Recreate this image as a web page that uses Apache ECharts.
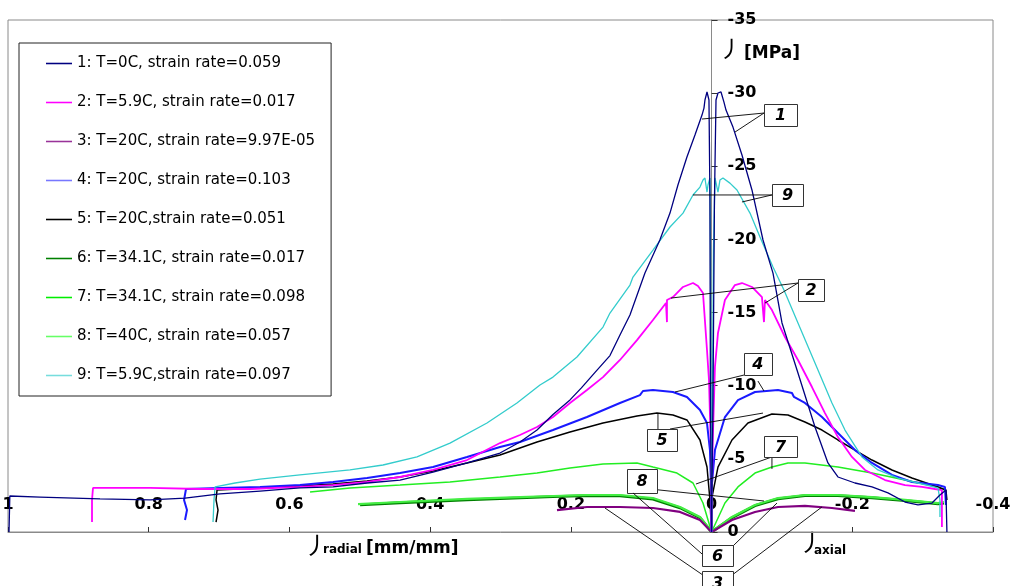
<!DOCTYPE html>
<html>
<head>
<meta charset="utf-8">
<script src="https://cdn.jsdelivr.net/npm/echarts@6/dist/echarts.min.js"></script>
<style>html,body{margin:0;padding:0;background:#fff;}#c{width:1010px;height:586px;}</style>
</head>
<body>
<div id="c"></div>
<script>
// ---------- DATA ----------
const names = [
  '1: T=0C, strain rate=0.059',
  '2: T=5.9C, strain rate=0.017',
  '3: T=20C, strain rate=9.97E-05',
  '4: T=20C, strain rate=0.103',
  '5: T=20C,strain rate=0.051',
  '6: T=34.1C, strain rate=0.017',
  '7: T=34.1C, strain rate=0.098',
  '8: T=40C, strain rate=0.057',
  '9: T=5.9C,strain rate=0.097'
];
const xTicks = [1, 0.8, 0.6, 0.4, 0.2, 0, -0.2, -0.4];
const yTicks = [-35, -30, -25, -20, -15, -10, -5, 0];

// [strain, stress MPa]; radial strain positive (left), axial strain negative (right)
const radial1 = [[0,0],[0.0016,-9.02],[0.0023,-22.69],[0.0037,-29.53],[0.0065,-30.08],[0.0094,-29.53],[0.0108,-28.98],[0.0136,-28.50],[0.0236,-27.14],[0.0350,-25.63],[0.0478,-23.72],[0.0591,-21.80],[0.0735,-19.96],[0.0947,-17.70],[0.1160,-14.83],[0.1302,-13.47],[0.1444,-12.06],[0.1650,-10.95],[0.1850,-9.85],[0.2012,-9.03],[0.2254,-8.03],[0.2481,-6.97],[0.2723,-6.15],[0.3007,-5.40],[0.3476,-4.72],[0.3959,-4.10],[0.4428,-3.55],[0.4897,-3.35],[0.5381,-3.08],[0.5850,-3.01],[0.6418,-2.80],[0.6987,-2.60],[0.7484,-2.32],[0.7981,-2.19],[0.8692,-2.26],[0.9545,-2.39],[0.9974,-2.46],[0.9986,0]];
const axial1 = [[0,0],[-0.0020,-9.02],[-0.0041,-22.69],[-0.0063,-29.53],[-0.0091,-30.01],[-0.0134,-30.08],[-0.0176,-29.39],[-0.0205,-28.84],[-0.0304,-27.68],[-0.0432,-25.77],[-0.0574,-23.38],[-0.0731,-19.96],[-0.0873,-17.70],[-0.1001,-14.29],[-0.1228,-10.87],[-0.1470,-7.18],[-0.1654,-4.72],[-0.1796,-3.76],[-0.2038,-3.35],[-0.2280,-3.08],[-0.2507,-2.67],[-0.2749,-2.05],[-0.2934,-1.85],[-0.3133,-1.98],[-0.3246,-2.53],[-0.3331,-2.87],[-0.3345,0]];

const radial2 = [[0,0],[0.0009,-5.60],[0.0037,-10.39],[0.0065,-12.44],[0.0122,-16.34],[0.0193,-16.81],[0.0264,-17.02],[0.0406,-16.75],[0.0549,-16.06],[0.0634,-15.86],[0.0634,-14.35],[0.0648,-15.65],[0.0833,-14.49],[0.1060,-13.12],[0.1302,-11.76],[0.1543,-10.59],[0.1771,-9.71],[0.2012,-8.82],[0.2254,-7.86],[0.2481,-7.18],[0.2723,-6.63],[0.3007,-6.08],[0.3476,-4.92],[0.3959,-4.24],[0.4428,-3.76],[0.4897,-3.42],[0.5381,-3.21],[0.5850,-3.08],[0.6560,-2.94],[0.7271,-2.94],[0.7981,-3.01],[0.8792,-3.01],[0.8806,-2.19],[0.8806,-0.68]];
const axial2 = [[0,0],[-0.0013,-5.60],[-0.0048,-11.28],[-0.0091,-13.60],[-0.0190,-15.86],[-0.0332,-16.88],[-0.0432,-17.02],[-0.0574,-16.75],[-0.0716,-16.06],[-0.0745,-14.35],[-0.0759,-15.86],[-0.0858,-15.17],[-0.1043,-13.33],[-0.1228,-11.76],[-0.1427,-9.91],[-0.1612,-8.13],[-0.1796,-6.49],[-0.1995,-5.13],[-0.2180,-4.24],[-0.2465,-3.55],[-0.2749,-3.21],[-0.2990,-3.08],[-0.3175,-2.94],[-0.3274,-2.87],[-0.3274,-0.34]];

const radial3 = [[0,0],[0.0165,-0.82],[0.0449,-1.37],[0.0833,-1.64],[0.1302,-1.71],[0.1771,-1.71],[0.2197,-1.50]];
const axial3 = [[0,0],[-0.0290,-0.82],[-0.0617,-1.37],[-0.0944,-1.71],[-0.1327,-1.78],[-0.1711,-1.64],[-0.2038,-1.44]];

const radial4 = [[0,0],[0.0009,-3.35],[0.0023,-5.60],[0.0065,-7.45],[0.0165,-8.34],[0.0350,-9.23],[0.0549,-9.57],[0.0833,-9.71],[0.0975,-9.64],[0.1018,-9.36],[0.1302,-8.82],[0.1771,-7.86],[0.2254,-6.97],[0.2723,-6.15],[0.3007,-5.81],[0.3476,-5.13],[0.3959,-4.44],[0.4428,-4.03],[0.4897,-3.69],[0.5381,-3.42],[0.5850,-3.21],[0.6418,-3.08],[0.6987,-3.01],[0.7470,-2.94],[0.7498,-2.19],[0.7456,-1.50],[0.7484,-0.82]];
const axial4 = [[0,0],[-0.0006,-3.35],[-0.0048,-5.60],[-0.0190,-7.86],[-0.0375,-9.02],[-0.0617,-9.57],[-0.0944,-9.71],[-0.1143,-9.50],[-0.1171,-9.23],[-0.1327,-8.82],[-0.1569,-7.86],[-0.1796,-6.77],[-0.2038,-5.60],[-0.2280,-4.72],[-0.2564,-3.90],[-0.2848,-3.42],[-0.3218,-3.21],[-0.3317,-3.08],[-0.3331,-1.85]];

const radial5 = [[0,0],[0.0023,-2.19],[0.0065,-4.44],[0.0165,-6.29],[0.0350,-7.66],[0.0549,-8.00],[0.0776,-8.13],[0.1060,-7.93],[0.1543,-7.45],[0.2012,-6.84],[0.2481,-6.15],[0.3007,-5.26],[0.3476,-4.72],[0.3959,-4.17],[0.4428,-3.76],[0.4897,-3.49],[0.5381,-3.28],[0.5850,-3.14],[0.6418,-3.01],[0.7029,-2.87],[0.7043,-2.19],[0.7015,-1.50],[0.7043,-0.68]];
const axial5 = [[0,0],[-0.0006,-2.39],[-0.0091,-4.44],[-0.0290,-6.29],[-0.0517,-7.45],[-0.0858,-8.07],[-0.1086,-8.00],[-0.1327,-7.52],[-0.1569,-6.97],[-0.1796,-6.29],[-0.2038,-5.60],[-0.2280,-4.92],[-0.2564,-4.24],[-0.2848,-3.69],[-0.3218,-3.08],[-0.3331,-2.87],[-0.3345,-2.19]];

const radial6 = [[0,0],[0.0165,-0.98],[0.0449,-1.65],[0.0833,-2.25],[0.1302,-2.47],[0.1771,-2.48],[0.2254,-2.42],[0.2723,-2.33],[0.3476,-2.20],[0.4428,-2.00],[0.4996,-1.86]];
const axial6 = [[0,0],[-0.0290,-0.98],[-0.0617,-1.80],[-0.0944,-2.27],[-0.1327,-2.48],[-0.1796,-2.48],[-0.2280,-2.34],[-0.2749,-2.14],[-0.3218,-1.93],[-0.3303,-1.98]];

const radial7 = [[0,0],[0.0122,-1.98],[0.0264,-3.35],[0.0492,-4.03],[0.0833,-4.44],[0.1060,-4.72],[0.1543,-4.65],[0.2012,-4.37],[0.2481,-4.03],[0.3007,-3.76],[0.3718,-3.42],[0.4428,-3.21],[0.5139,-3.01],[0.5707,-2.73]];
const axial7 = [[0,0],[-0.0190,-1.98],[-0.0375,-3.08],[-0.0617,-4.03],[-0.0858,-4.44],[-0.1086,-4.72],[-0.1327,-4.72],[-0.1796,-4.44],[-0.2280,-4.03],[-0.2749,-3.55],[-0.3218,-3.08],[-0.3303,-2.87]];

const radial8 = [[0,0],[0.0165,-1.03],[0.0449,-1.71],[0.0833,-2.32],[0.1302,-2.53],[0.1771,-2.53],[0.2254,-2.46],[0.2723,-2.39],[0.3476,-2.26],[0.4428,-2.05],[0.5025,-1.91]];
const axial8 = [[0,0],[-0.0290,-1.03],[-0.0617,-1.85],[-0.0944,-2.32],[-0.1327,-2.53],[-0.1796,-2.53],[-0.2280,-2.39],[-0.2749,-2.19],[-0.3218,-1.98],[-0.3303,-2.05]];

const radial9 = [[0,0],[0.0009,-9.02],[0.0016,-19.27],[0.0023,-24.20],[0.0051,-23.72],[0.0065,-23.24],[0.0094,-24.20],[0.0122,-24.06],[0.0165,-23.58],[0.0264,-23.04],[0.0406,-21.80],[0.0591,-20.85],[0.0833,-19.27],[0.1117,-17.43],[0.1160,-16.88],[0.1444,-14.97],[0.1543,-14.01],[0.1913,-11.96],[0.2254,-10.59],[0.2439,-10.05],[0.2766,-8.82],[0.3192,-7.45],[0.3718,-6.08],[0.4187,-5.13],[0.4670,-4.58],[0.5139,-4.24],[0.5850,-3.90],[0.6418,-3.62],[0.6773,-3.35],[0.7057,-3.08],[0.7072,-2.19],[0.7086,-0.68]];
const axial9 = [[0,0],[-0.0013,-9.02],[-0.0027,-19.27],[-0.0048,-24.20],[-0.0070,-23.72],[-0.0091,-23.24],[-0.0119,-24.06],[-0.0162,-24.20],[-0.0261,-23.85],[-0.0361,-23.38],[-0.0546,-21.80],[-0.0688,-20.16],[-0.0873,-18.11],[-0.1029,-16.54],[-0.1228,-14.29],[-0.1470,-11.55],[-0.1711,-8.82],[-0.1896,-6.97],[-0.2137,-5.13],[-0.2365,-4.24],[-0.2649,-3.69],[-0.2934,-3.35],[-0.3218,-3.01],[-0.3246,-2.19],[-0.3246,-1.03]];

// callouts: label, box centre [strain, stress], leader segments
const calloutLabels = ['1', '9', '2', '4', '5', '7', '8', '6', '3'];
const calloutCentres = [[-0.0979,-28.50],[-0.1079,-23.04],[-0.1413,-16.54],[-0.0659,-11.48],[0.0705,-6.29],[-0.0979,-5.84],[0.0989,-3.49],[-0.0084,1.61],[-0.0084,3.45]];
const calloutLeaders = [
  [[[-0.0745,-28.64],[0.0136,-28.23]], [[-0.0745,-28.64],[-0.0333,-27.34]]],
  [[[-0.0858,-23.04],[0.0264,-23.04]], [[-0.0858,-23.04],[-0.0432,-22.56]]],
  [[[-0.1228,-17.02],[0.0577,-15.99]], [[-0.1228,-17.02],[-0.0759,-15.65]]],
  [[[-0.0461,-10.73],[0.0520,-9.57]], [[-0.0659,-10.32],[-0.0745,-9.64]]],
  [[[0.0762,-7.04],[0.0762,-8.07]], [[0.0591,-7.04],[-0.0731,-8.13]]],
  [[[-0.0858,-5.13],[-0.0858,-4.31]], [[-0.0858,-5.13],[0.0222,-3.28]]],
  [[[0.1018,-3.01],[-0.0745,-2.12]]],
  [[[0.0136,1.50],[0.1117,-2.67]], [[-0.0304,0.96],[-0.0930,-1.98]]],
  [[[0.0136,2.90],[0.1515,-1.64]], [[-0.0304,2.90],[-0.1568,-1.71]]]
];

// ---------- STYLE ----------
const radials = [radial1, radial2, radial3, radial4, radial5, radial6, radial7, radial8, radial9];
const axials = [axial1, axial2, axial3, axial4, axial5, axial6, axial7, axial8, axial9];
const colors = ['#000080', '#ff00ff', '#800080', '#1a1aff', '#000000', '#008000', '#22ee22', '#44ee44', '#33cccc'];
const legendColors = ['#000080', '#ff00ff', '#993399', '#7777ff', '#000000', '#008000', '#00ee00', '#66ff66', '#77dddd'];
const widths = [1.3, 1.8, 2.2, 2, 1.5, 2.8, 1.5, 2.2, 1.3];
const boxSize = [[33,22],[31,22],[26,22],[28,22],[30,22],[33,21],[30,24],[31,21],[31,22]];
const drawOrder = [5, 7, 2, 6, 4, 3, 1, 8, 0];

const GRID = { left: 8, right: 17, top: 20, bottom: 54 };
const plotW = 1010 - GRID.left - GRID.right;
const xMin = xTicks[xTicks.length - 1], xMax = xTicks[0];
const yAxisOffset = -plotW * (xMax - 0) / (xMax - xMin);

const series = [];
drawOrder.forEach(function (i) {
  [radials[i], axials[i]].forEach(function (d) {
    series.push({
      type: 'line', name: names[i], data: d, symbol: 'none', showSymbol: false,
      lineStyle: { color: colors[i], width: widths[i] }, itemStyle: { color: colors[i] },
      silent: true, animation: false
    });
  });
});
series.push({
  type: 'custom', name: 'callouts', coordinateSystem: 'cartesian2d', clip: false, z: 10, silent: true,
  data: calloutCentres,
  renderItem: function (params, api) {
    const i = params.dataIndex;
    const c = api.coord([api.value(0), api.value(1)]);
    const w = boxSize[i][0], h = boxSize[i][1];
    const children = [];
    calloutLeaders[i].forEach(function (seg) {
      const a = api.coord(seg[0]), b = api.coord(seg[1]);
      children.push({ type: 'line', shape: { x1: a[0], y1: a[1], x2: b[0], y2: b[1] }, style: { stroke: '#000', lineWidth: 0.9 } });
    });
    children.push({ type: 'rect', shape: { x: Math.round(c[0] - w / 2) + 0.5, y: Math.round(c[1] - h / 2) + 0.5, width: w, height: h }, style: { fill: '#fff', stroke: '#333', lineWidth: 1 } });
    children.push({ type: 'text', style: { text: calloutLabels[i], x: c[0], y: c[1] + 1, align: 'center', verticalAlign: 'middle', font: 'italic bold 16px "DejaVu Sans"', fill: '#000' } });
    return { type: 'group', children: children };
  }
});

const chart = echarts.init(document.getElementById('c'), null, { renderer: 'canvas' });
const boldFont = { fontFamily: 'DejaVu Sans', fontWeight: 'bold', fontSize: 16, color: '#000' };
const lineIcon = 'path://M0,0H100V6H0Z';
chart.setOption({
  animation: false,
  backgroundColor: '#fff',
  grid: { left: GRID.left, right: GRID.right, top: GRID.top, bottom: GRID.bottom, show: true, borderColor: '#8a8a8a', borderWidth: 1, containLabel: false, outerBoundsMode: 'none' },
  xAxis: {
    type: 'value', inverse: true, min: xMin, max: xMax, interval: 0.2,
    axisLine: { show: true, onZero: true, lineStyle: { color: '#8a8a8a', width: 1 } },
    axisTick: { show: true, inside: true, length: 5, lineStyle: { color: '#333' } },
    axisLabel: Object.assign({ inside: true, margin: 19, showMinLabel: true, showMaxLabel: true }, boldFont),
    splitLine: { show: false }
  },
  yAxis: {
    type: 'value', inverse: true, min: yTicks[0], max: yTicks[yTicks.length - 1], interval: 5,
    position: 'left', offset: yAxisOffset,
    axisLine: { show: true, onZero: false, lineStyle: { color: '#8a8a8a', width: 1 } },
    axisTick: { show: true, inside: true, length: 6, lineStyle: { color: '#333' } },
    axisLabel: Object.assign({ inside: true, margin: 16, showMinLabel: true, showMaxLabel: true }, boldFont),
    splitLine: { show: false }
  },
  legend: {
    data: names.map(function (n, i) { return { name: n, icon: lineIcon, itemStyle: { color: legendColors[i] } }; }),
    orient: 'vertical', left: 19, top: 43, symbolKeepAspect: true,
    padding: [13, 16, 13, 27], itemGap: 24, itemWidth: 26, itemHeight: 14,
    backgroundColor: '#fff', borderColor: '#222', borderWidth: 1, borderRadius: 0,
    textStyle: { fontFamily: 'DejaVu Sans', fontSize: 15, color: '#000' },
    selectedMode: false
  },
  graphic: [
    { type: 'text', left: 719, top: 37, style: { text: '丿', font: '23px "Noto Sans CJK SC"', fill: '#000' } },
    { type: 'text', left: 744, top: 45, style: { text: '[MPa]', font: 'bold 17px "DejaVu Sans"', fill: '#000' } },
    { type: 'text', left: 304, top: 533, style: { text: '丿', font: '24px "Noto Sans CJK SC"', fill: '#000' } },
    { type: 'text', left: 323, top: 544, style: { text: 'radial', font: 'bold 12px "DejaVu Sans"', fill: '#000' } },
    { type: 'text', left: 366, top: 540, style: { text: '[mm/mm]', font: 'bold 17px "DejaVu Sans"', fill: '#000' } },
    { type: 'text', left: 799, top: 530, style: { text: '丿', font: '24px "Noto Sans CJK SC"', fill: '#000' } },
    { type: 'text', left: 814, top: 545, style: { text: 'axial', font: 'bold 12px "DejaVu Sans"', fill: '#000' } }
  ],
  series: series
});
</script>
</body>
</html>
